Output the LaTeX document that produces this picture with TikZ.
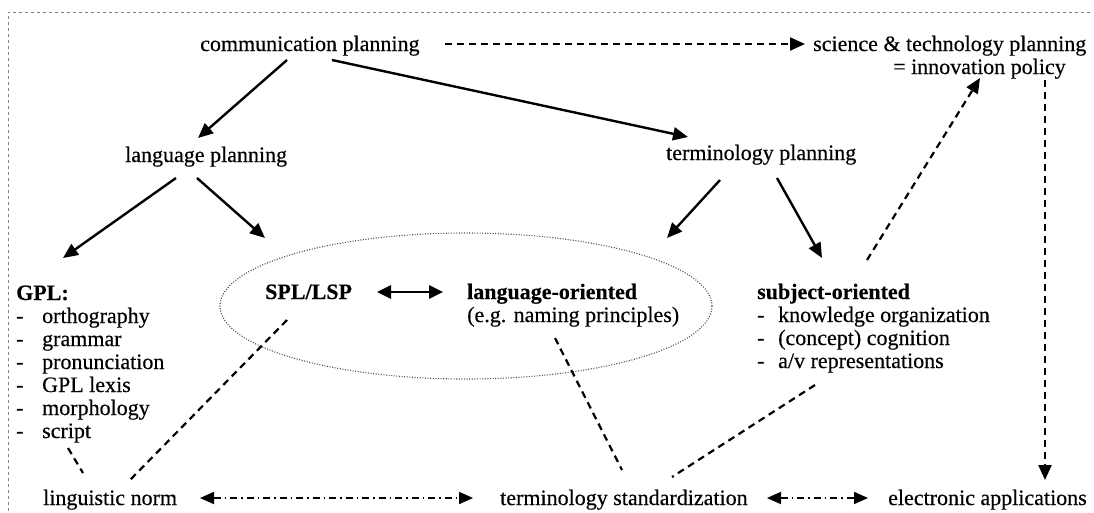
\documentclass[tikz,border=0pt]{standalone}
\usepackage{fontspec}
\setmainfont{Liberation Serif}[FakeBold=0.35,BoldFeatures={FakeBold=0.3}]
\usetikzlibrary{arrows.meta}
\begin{document}
\begin{tikzpicture}[x=1pt,y=-1pt,
  txt/.style={anchor=base west, inner sep=0pt, font=\fontsize{22}{23}\selectfont},
  btxt/.style={txt, font=\fontsize{22}{23}\selectfont\bfseries},
  tip/.style={-{Triangle[length=15pt,width=13pt]}},
  solidarrow/.style={tip, line width=2.4pt},
  dasharrow/.style={tip, line width=2.2pt, dash pattern=on 7pt off 5pt},
  dashline/.style={line width=2.2pt, dash pattern=on 7pt off 5pt},
  dotdash/.style={{Triangle[length=14pt,width=12pt]}-{Triangle[length=14pt,width=12pt]}, line width=1.8pt, dash pattern=on 7pt off 4pt on 1.5pt off 4pt},
  frame/.style={gray, line width=0.8pt, dash pattern=on 3pt off 3pt},
  ring/.style={draw=gray!60!black, line width=1.1pt, dash pattern=on 1pt off 1.6pt}
]
\useasboundingbox (0,0) rectangle (1094,512);
% frame
\coordinate (fTL) at (8,12);
\coordinate (fTR) at (1090,12);
\coordinate (fBL) at (8,512);
\draw[frame] (fTR) -- (fTL) -- (fBL);

% ellipse
\draw[ring] (466,306) ellipse [x radius=246, y radius=73];

% text nodes
\node[txt] (comm) at (200,51) {communication planning};
\node[txt] (sci) at (813,51) {science \& technology planning};
\node[txt] (innov) at (893,74) {= innovation policy};
\node[txt] (lang) at (125,162) {language planning};
\node[txt] (term) at (666,160) {terminology planning};

\node[btxt] (gpl) at (16,300) {GPL:};
\node[txt] (g1) at (16,323) {\makebox[26pt][l]{-}orthography};
\node[txt] (g2) at (16,346) {\makebox[26pt][l]{-}grammar};
\node[txt] (g3) at (16,369) {\makebox[26pt][l]{-}pronunciation};
\node[txt] (g4) at (16,392) {\makebox[26pt][l]{-}GPL lexis};
\node[txt] (g5) at (16,415) {\makebox[26pt][l]{-}morphology};
\node[txt] (g6) at (16,438) {\makebox[26pt][l]{-}script};

\node[btxt] (spl) at (265,299) {SPL/LSP};
\node[btxt] (lor) at (467,299) {language-oriented};
\node[txt] (lor2) at (467,322) {(e.g. naming principles)};

\node[btxt] (sor) at (757,299) {subject-oriented};
\node[txt] (s1) at (757,322) {\makebox[21pt][l]{-}knowledge organization};
\node[txt] (s2) at (757,345) {\makebox[21pt][l]{-}(concept) cognition};
\node[txt] (s3) at (757,368) {\makebox[21pt][l]{-}a/v representations};

\node[txt] (norm) at (43,505) {linguistic norm};
\node[txt] (std) at (500,505) {terminology standardization};
\node[txt] (elec) at (888,505) {electronic applications};

% connector end points
\coordinate (c1a) at (287,60);   \coordinate (c1b) at (198,138);
\coordinate (c2a) at (332,60);   \coordinate (c2b) at (688,137);
\coordinate (c3a) at (445,44);   \coordinate (c3b) at (805,44);
\coordinate (c4a) at (176,178);  \coordinate (c4b) at (63,258);
\coordinate (c5a) at (197,178);  \coordinate (c5b) at (265,238);
\coordinate (c6a) at (720,180);  \coordinate (c6b) at (667,238);
\coordinate (c7a) at (777,178);  \coordinate (c7b) at (822,258);
\coordinate (c8a) at (867,260);  \coordinate (c8b) at (980,78);
\coordinate (c9a) at (1045,80);  \coordinate (c9b) at (1045,480);
\coordinate (c10a) at (377,292); \coordinate (c10b) at (443,292);
\coordinate (c11a) at (68,448);  \coordinate (c11b) at (83,473);
\coordinate (c12a) at (287,320); \coordinate (c12b) at (130,480);
\coordinate (c13a) at (555,338); \coordinate (c13b) at (622,470);
\coordinate (c14a) at (815,385); \coordinate (c14b) at (672,477);
\coordinate (c15a) at (200,498); \coordinate (c15b) at (473,498);
\coordinate (c16a) at (767,498); \coordinate (c16b) at (868,498);

% connectors
\draw[solidarrow] (c1a) -- (c1b);
\draw[solidarrow] (c2a) -- (c2b);
\draw[dasharrow] (c3a) -- (c3b);
\draw[solidarrow] (c4a) -- (c4b);
\draw[solidarrow] (c5a) -- (c5b);
\draw[solidarrow] (c6a) -- (c6b);
\draw[solidarrow] (c7a) -- (c7b);
\draw[dasharrow] (c8a) -- (c8b);
\draw[dasharrow] (c9a) -- (c9b);
\draw[{Triangle[length=14pt,width=13pt]}-{Triangle[length=14pt,width=13pt]}, line width=2.7pt] (c10a) -- (c10b);
\draw[dashline] (c11a) -- (c11b);
\draw[dashline] (c12a) -- (c12b);
\draw[dashline] (c13a) -- (c13b);
\draw[dashline] (c14a) -- (c14b);
\draw[dotdash] (c15a) -- (c15b);
\draw[dotdash] (c16a) -- (c16b);
\end{tikzpicture}
\end{document}
